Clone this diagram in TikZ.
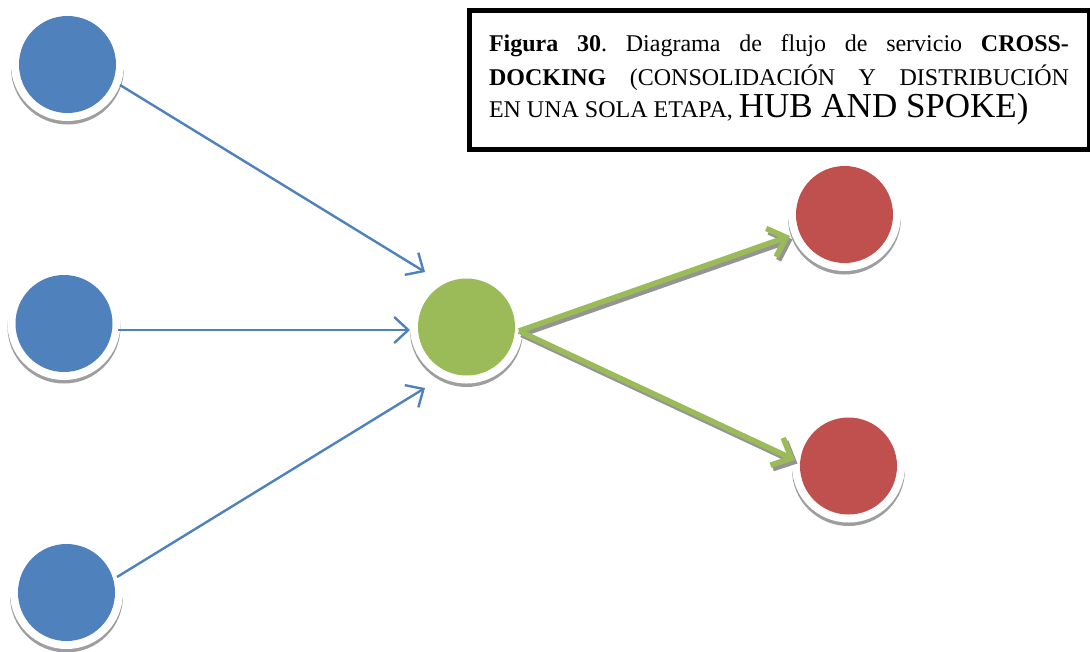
\documentclass[tikz,border=0pt]{standalone}
\usepackage{fontspec}
\setmainfont{Liberation Serif}
\usepackage{xcolor}
\usepackage{tikz}
\usetikzlibrary{arrows.meta}
\definecolor{srcblue}{HTML}{4F81BD}
\definecolor{hubgreen}{HTML}{9BBB59}
\definecolor{sinkred}{HTML}{C0504D}
\tikzset{
  ball/.style={circle, minimum size=97pt, inner sep=0pt, fill=#1,
    preaction={draw=black!38, line width=16pt, transform canvas={yshift=-3.5pt}},
    preaction={draw=white, line width=16pt}},
  feed/.style={draw=srcblue, line width=2.4pt, -{Straight Barb[length=14pt, width=26pt]}},
  flow/.style={draw=hubgreen, line width=5.5pt, -{Straight Barb[length=16pt, width=30pt]}},
  flowshade/.style={flow, draw=black!42, transform canvas={xshift=2.5pt, yshift=-3.5pt}},
  caption/.style={draw, line width=5pt, minimum width=620pt, minimum height=139pt,
    inner sep=0pt, text width=580pt, align=justify, font=\fontsize{24}{32}\selectfont}
}

\begin{document}
\begin{tikzpicture}[x=1pt, y=-1pt]
\useasboundingbox (0,0) rectangle (1090,651);
\node[ball=srcblue] (srcA) at (67.5,64.5) {};
\node[ball=srcblue] (srcB) at (64,323.5) {};
\node[ball=srcblue] (srcC) at (66.5,592.5) {};
\node[ball=hubgreen] (hub) at (466.5,327) {};
\node[ball=sinkred] (sinkA) at (844.5,214.5) {};
\node[ball=sinkred] (sinkB) at (848.5,466) {};
\foreach \s/\sx/\sy/\tx/\ty in {srcA/52.5/20.5/-41.5/-55, srcB/54/6.5/-56.5/3, srcC/50.5/-15.5/-41.5/61} {
 \draw[feed] ([shift={(\sx,\sy)}]\s.center) -- ([shift={(\tx,\ty)}]hub.center);
}
\foreach \t/\tx/\ty in {sinkA/-54.5/21.5, sinkB/-53.5/-6} {
 \draw[flowshade] ([shift={(52.5,4)}]hub.center) -- ([shift={(\tx,\ty)}]\t.center);
 \draw[flow] ([shift={(52.5,4)}]hub.center) -- ([shift={(\tx,\ty)}]\t.center);
}
\node[caption] (cap) at (779,80) {\tolerance=10000 \hyphenpenalty=10000 \frenchspacing
\vspace*{2pt}\textbf{Figura 30}. Diagrama de flujo de servicio \textbf{CROSS-}\linebreak
\textbf{DOCKING} (CONSOLIDACIÓN Y DISTRIBUCIÓN\linebreak
EN UNA SOLA ETAPA, {\fontsize{35}{32}\selectfont HUB AND SPOKE)}};
\end{tikzpicture}
\end{document}
